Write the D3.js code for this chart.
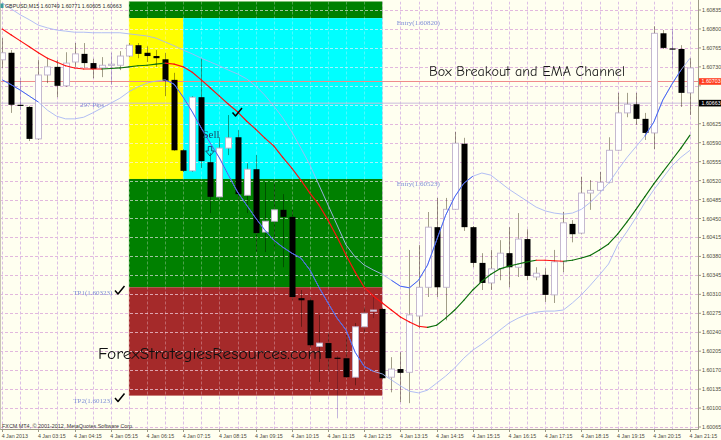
<!DOCTYPE html>
<html><head><meta charset="utf-8">
<script src="https://cdn.jsdelivr.net/npm/d3@7"></script>
<style>html,body{margin:0;padding:0;background:#fffff0;}svg{display:block}</style>
</head><body>
<script>
// ---------- DATA (GBPUSD M15, 4 Jan 2013) ----------
const open = [1.60743,1.60756,1.60660,1.60656,1.60597,1.60715,1.60730,1.60695,1.60739,1.60754,
1.60737,1.60728,1.60734,1.60733,1.60750,1.60770,1.60756,1.60750,1.60744,1.60706,
1.60576,1.60538,1.60674,1.60554,1.60490,1.60580,1.60600,1.60493,1.60541,1.60425,
1.60445,1.60466,1.60453,1.60303,1.60299,1.60214,1.60220,1.60193,1.60192,1.60157,
1.60250,1.60279,1.60283,1.60157,1.60172,1.60166,1.60270,1.60323,1.60434,1.60323,
1.60467,1.60588,1.60434,1.60368,1.60331,1.60357,1.60386,1.60360,1.60412,1.60342,
1.60346,1.60309,1.60370,1.60440,1.60423,1.60497,1.60502,1.60517,1.60576,1.60645,
1.60661,1.60634,1.60608,1.60792,1.60764,1.60763,1.60682];
const high = [1.60783,1.60761,1.60709,1.60658,1.60743,1.60745,1.60743,1.60757,1.60774,1.60774,
1.60745,1.60748,1.60756,1.60759,1.60774,1.60774,1.60768,1.60761,1.60756,1.60719,
1.60578,1.60676,1.60746,1.60571,1.60600,1.60641,1.60613,1.60552,1.60567,1.60517,
1.60515,1.60495,1.60466,1.60318,1.60305,1.60272,1.60238,1.60196,1.60235,1.60257,
1.60286,1.60309,1.60285,1.60194,1.60203,1.60392,1.60401,1.60462,1.60488,1.60488,
1.60610,1.60599,1.60436,1.60386,1.60392,1.60410,1.60434,1.60460,1.60430,1.60360,
1.60358,1.60392,1.60462,1.60447,1.60527,1.60521,1.60536,1.60600,1.60682,1.60682,
1.60682,1.60645,1.60805,1.60798,1.60800,1.60770,1.60746];
const low = [1.60728,1.60645,1.60650,1.60593,1.60595,1.60700,1.60674,1.60693,1.60730,1.60728,
1.60709,1.60711,1.60697,1.60724,1.60748,1.60746,1.60739,1.60730,1.60676,1.60575,
1.60536,1.60536,1.60543,1.60460,1.60488,1.60567,1.60484,1.60460,1.60388,1.60388,
1.60392,1.60360,1.60299,1.60250,1.60211,1.60148,1.60170,1.60081,1.60155,1.60142,
1.60240,1.60266,1.60153,1.60129,1.60111,1.60109,1.60248,1.60305,1.60305,1.60262,
1.60466,1.60427,1.60360,1.60318,1.60318,1.60336,1.60323,1.60342,1.60336,1.60336,
1.60296,1.60294,1.60351,1.60406,1.60421,1.60466,1.60500,1.60515,1.60575,1.60637,
1.60623,1.60595,1.60578,1.60763,1.60728,1.60656,1.60641];
const close = [1.60756,1.60660,1.60658,1.60597,1.60715,1.60730,1.60695,1.60737,1.60754,1.60737,
1.60726,1.60733,1.60735,1.60750,1.60770,1.60754,1.60750,1.60746,1.60704,1.60576,
1.60538,1.60674,1.60556,1.60490,1.60580,1.60599,1.60495,1.60541,1.60423,1.60445,
1.60466,1.60453,1.60305,1.60299,1.60216,1.60220,1.60192,1.60192,1.60157,1.60250,
1.60275,1.60281,1.60155,1.60172,1.60165,1.60272,1.60323,1.60434,1.60323,1.60467,
1.60589,1.60434,1.60368,1.60331,1.60357,1.60386,1.60360,1.60412,1.60344,1.60349,
1.60309,1.60370,1.60442,1.60421,1.60497,1.60502,1.60517,1.60576,1.60645,1.60661,
1.60634,1.60608,1.60792,1.60765,1.60763,1.60682,1.60728];
// EMA (red falling / green rising)
const ema = [1.60800,1.60789,1.60778,1.60767,1.60756,1.60746,1.60739,1.60732,1.60728,1.60726,
1.60726,1.60726,1.60727,1.60728,1.60730,1.60732,1.60733,1.60735,1.60737,1.60735,
1.60730,1.60720,1.60706,1.60691,1.60676,1.60661,1.60647,1.60630,1.60615,1.60599,
1.60584,1.60563,1.60543,1.60521,1.60497,1.60475,1.60447,1.60416,1.60382,1.60351,
1.60323,1.60307,1.60294,1.60281,1.60268,1.60259,1.60251,1.60249,1.60253,1.60266,
1.60281,1.60299,1.60318,1.60334,1.60347,1.60357,1.60362,1.60366,1.60370,1.60373,
1.60373,1.60372,1.60371,1.60373,1.60377,1.60382,1.60392,1.60403,1.60421,1.60443,
1.60466,1.60490,1.60514,1.60536,1.60558,1.60580,1.60604];
// channel bands
const upperBand = [1.60848,1.60837,1.60826,1.60817,1.60807,1.60802,1.60798,1.60796,1.60794,1.60794,
1.60793,1.60793,1.60793,1.60793,1.60791,1.60789,1.60787,1.60783,1.60776,1.60769,
1.60761,1.60754,1.60746,1.60739,1.60732,1.60724,1.60717,1.60708,1.60695,1.60678,
1.60658,1.60636,1.60610,1.60580,1.60549,1.60512,1.60475,1.60438,1.60401,1.60379,
1.60364,1.60355,1.60347,1.60336,1.60325,1.60322,1.60336,1.60364,1.60410,1.60456,
1.60490,1.60515,1.60528,1.60534,1.60530,1.60517,1.60504,1.60493,1.60482,1.60471,
1.60464,1.60460,1.60458,1.60460,1.60467,1.60480,1.60497,1.60515,1.60539,1.60562,
1.60582,1.60602,1.60628,1.60669,1.60698,1.60724,1.60746];
const lowerBand = [1.60706,1.60697,1.60687,1.60676,1.60665,1.60650,1.60639,1.60634,1.60634,1.60637,
1.60645,1.60654,1.60663,1.60672,1.60684,1.60693,1.60700,1.60704,1.60706,1.60698,
1.60674,1.60647,1.60617,1.60589,1.60562,1.60530,1.60499,1.60475,1.60451,1.60429,
1.60410,1.60397,1.60386,1.60377,1.60355,1.60323,1.60294,1.60266,1.60244,1.60203,
1.60177,1.60168,1.60163,1.60152,1.60141,1.60131,1.60128,1.60133,1.60146,1.60159,
1.60174,1.60192,1.60207,1.60218,1.60231,1.60244,1.60257,1.60266,1.60273,1.60277,
1.60279,1.60279,1.60281,1.60294,1.60309,1.60327,1.60346,1.60366,1.60401,1.60425,
1.60451,1.60479,1.60503,1.60525,1.60547,1.60563,1.60576];
// bar ranges where price broke out of the band
const upperBreakRanges = [[43, 52], [71, 75]];
const lowerBreakRanges = [[0, 4], [18, 41]];

// box objects (bar index from/to, price top/bottom)
const boxNames   = ["entryHigh", "range1", "range2", "entryLow", "target"];
const boxFrom    = [14, 14, 20, 14, 14];
const boxTo      = [42, 20, 42, 42, 42];
const boxTop     = [1.60900, 1.60820, 1.60820, 1.60523, 1.60323];
const boxBottom  = [1.60820, 1.60523, 1.60523, 1.60323, 1.60123];

const priceTicks = [1.60065,1.60100,1.60135,1.60170,1.60205,1.60240,1.60275,1.60310,1.60345,1.60380,
1.60415,1.60450,1.60485,1.60520,1.60555,1.60590,1.60625,1.60660,1.60695,1.60730,1.60765,1.60800,1.60835];
const timeLabels = ["4 Jan 2013","4 Jan 03:15","4 Jan 04:15","4 Jan 05:15","4 Jan 06:15","4 Jan 07:15",
"4 Jan 08:15","4 Jan 09:15","4 Jan 10:15","4 Jan 11:15","4 Jan 12:15","4 Jan 13:15","4 Jan 14:15",
"4 Jan 15:15","4 Jan 16:15","4 Jan 17:15","4 Jan 18:15","4 Jan 19:15","4 Jan 20:15","4 Jan 21:15"];
const timeLabelBars = [0,4,8,12,16,20,24,28,32,36,40,44,48,52,56,60,64,68,72,76];

const priceLines = [1.60703, 1.60663];
const headerText = "GBPUSD,M15  1.60749 1.60771 1.60605 1.60663";
const footerText = "FXCM MT4, \u00A9 2001-2012, MetaQuotes Software Corp.";

// ---------- STYLES ----------
const boxColors = {entryHigh:"#008000", range1:"#ffff00", range2:"#00ffff", entryLow:"#008000", target:"#a52a2a"};
const W = 721, H = 440;
const plotRight = 698.5, plotTop = 1.5, plotBottom = 429.5;

const x = d3.scaleLinear().domain([0, 76]).range([2.2, 690]);
const y = d3.scaleLinear().domain([1.60065, 1.60835]).range([427, 10]);
const n = open.length;

const svg = d3.select("body").append("svg").attr("width", W).attr("height", H);
svg.append("rect").attr("width", W).attr("height", H).attr("fill", "#fffff0");
const defs = svg.append("defs");
defs.append("clipPath").attr("id", "plotClip").append("rect")
  .attr("x", 0).attr("y", plotTop).attr("width", plotRight).attr("height", plotBottom - plotTop);
const boxClip = defs.append("clipPath").attr("id", "boxClip");
boxNames.forEach((b, i) => boxClip.append("rect")
  .attr("x", x(boxFrom[i])).attr("width", x(boxTo[i]) - x(boxFrom[i]))
  .attr("y", Math.max(plotTop, y(boxTop[i]))).attr("height", y(boxBottom[i]) - Math.max(plotTop, y(boxTop[i]))));

const g = svg.append("g").attr("clip-path", "url(#plotClip)");

const vGrid = d3.range(0, n, 2);
function drawGrid(parent, col, colV) {
  parent.selectAll(null).data(priceTicks).join("line")
    .attr("x1", 0).attr("x2", plotRight).attr("y1", d => Math.round(y(d)) + 0.5).attr("y2", d => Math.round(y(d)) + 0.5)
    .attr("stroke", col).attr("stroke-width", 1).attr("stroke-dasharray", "3,2");
  parent.selectAll(null).data(vGrid).join("line")
    .attr("y1", plotTop).attr("y2", plotBottom).attr("x1", d => Math.round(x(d)) + 0.5).attr("x2", d => Math.round(x(d)) + 0.5)
    .attr("stroke", colV).attr("stroke-width", 1).attr("stroke-dasharray", "3,2");
}
drawGrid(g.append("g"), "#e2b8de", "#dcbfe6");

// boxes
g.append("g").selectAll("rect").data(boxNames).join("rect")
  .attr("x", (d, i) => x(boxFrom[i])).attr("width", (d, i) => x(boxTo[i]) - x(boxFrom[i]))
  .attr("y", (d, i) => y(boxTop[i])).attr("height", (d, i) => y(boxBottom[i]) - y(boxTop[i]))
  .attr("fill", d => boxColors[d]);
drawGrid(g.append("g").attr("clip-path", "url(#boxClip)"), "rgba(255,238,255,0.62)", "rgba(255,238,255,0.3)");

// horizontal price lines
g.append("line").attr("x1", 0).attr("x2", plotRight).attr("y1", y(priceLines[0])).attr("y2", y(priceLines[0]))
  .attr("stroke", "#f08a8a").attr("stroke-width", 1);
g.append("line").attr("x1", 0).attr("x2", plotRight).attr("y1", y(priceLines[1])).attr("y2", y(priceLines[1]))
  .attr("stroke", "#cbbcdc").attr("stroke-width", 1);

// candles
const idx = d3.range(n);
const cg = g.append("g");
cg.selectAll("line.wick").data(idx).join("line").attr("class", "wick")
  .attr("x1", i => Math.round(x(i)) + 0.5).attr("x2", i => Math.round(x(i)) + 0.5)
  .attr("y1", i => y(high[i])).attr("y2", i => y(low[i]))
  .attr("stroke", i => Math.abs(close[i] - open[i]) < 0.00003 ? "#c4b6dc" : "#a29e88")
  .attr("stroke-width", 1).style("mix-blend-mode", "multiply");
cg.selectAll("rect.body").data(idx).join("rect").attr("class", "body")
  .attr("x", i => Math.round(x(i)) - 2.5).attr("width", 6)
  .attr("y", i => y(Math.max(open[i], close[i])))
  .attr("height", i => Math.max(1.2, Math.abs(y(open[i]) - y(close[i]))))
  .attr("fill", i => close[i] >= open[i] ? "#ffffff" : "#000000")
  .attr("stroke", i => close[i] >= open[i] ? "#bfb2cc" : "none").attr("stroke-width", 0.9);

// bands
const lineGen = d3.line().x((d, i) => x(i)).y(d => y(d));
const inRanges = (i, rs) => rs.some(r => i >= r[0] && i <= r[1]);
[[upperBand, upperBreakRanges], [lowerBand, lowerBreakRanges]].forEach(([arr, rs]) => {
  g.append("path").attr("d", lineGen(arr)).attr("fill", "none").attr("stroke", "#a9b7f4").attr("stroke-width", 0.9);
  const dark = d3.line().defined((d, i) => inRanges(i, rs)).x((d, i) => x(i)).y(d => y(d));
  g.append("path").attr("d", dark(arr)).attr("fill", "none").attr("stroke", "#3a5af2").attr("stroke-width", 0.9);
});
// EMA, coloured by direction
g.append("g").selectAll("line").data(d3.range(n - 1)).join("line")
  .attr("x1", i => x(i)).attr("x2", i => x(i + 1)).attr("y1", i => y(ema[i])).attr("y2", i => y(ema[i + 1]))
  .attr("stroke", i => ema[i + 1] > ema[i] ? "#0b6e0b" : "#ff1010").attr("stroke-width", 1.15).attr("stroke-linecap", "round");

// chart objects text
const serif = "'Liberation Serif','DejaVu Serif',serif";
const objText = [
  {t: "Entry(1.60820)", k: 43.6, p: 1.60820},
  {t: "Entry(1.60523)", k: 43.6, p: 1.60523},
  {t: "TP1(1.60323)", k: 7.86, p: 1.60323},
  {t: "TP2(1.60123)", k: 7.86, p: 1.60123}
];
g.selectAll("text.obj").data(objText).join("text").attr("class", "obj")
  .attr("x", d => x(d.k)).attr("y", d => y(d.p) + 7.3).text(d => d.t)
  .attr("font-family", serif).attr("font-size", 7).attr("fill", "#7f8fd6");
g.append("text").attr("x", 80).attr("y", 106.5).text("297 Pips")
  .attr("font-family", serif).attr("font-size", 7).attr("fill", "#7f8fd6");

function check(cx, cy) {
  g.append("path").attr("d", `M${cx},${cy + 4.5} L${cx + 3},${cy + 8} L${cx + 9.5},${cy}`)
    .attr("fill", "none").attr("stroke", "#000").attr("stroke-width", 1.5).attr("stroke-linejoin", "round");
}
check(115, 286); check(115, 393.5); check(232.5, 108);

g.append("text").attr("x", 202.5).attr("y", 138.3).text("Sell")
  .attr("font-family", serif).attr("font-size", 11).attr("fill", "#1f3f60");
g.append("path").attr("d", "M208.3,146.5 h3.4 v4.5 h2.6 l-4.3,5 l-4.3,-5 h2.6 z")
  .attr("fill", "none").attr("stroke", "#22406a").attr("stroke-width", 0.9);

const casual = "'Comic Sans MS','Comic Neue','DejaVu Sans',sans-serif";
g.append("text").attr("x", 429).attr("y", 76).text("Box Breakout and EMA Channel")
  .attr("font-family", casual).attr("font-size", 14).attr("fill", "#1a1a1a")
  .attr("textLength", 196).attr("lengthAdjust", "spacingAndGlyphs");
g.append("text").attr("x", 98).attr("y", 358.5).text("ForexStrategiesResources.com")
  .attr("font-family", casual).attr("font-size", 15.5).attr("fill", "#111")
  .attr("textLength", 224).attr("lengthAdjust", "spacingAndGlyphs");

// ---------- AXES ----------
const sans = "'Liberation Sans',Arial,sans-serif";
const axCol = "#9c9a86";
svg.append("line").attr("x1", plotRight).attr("x2", plotRight).attr("y1", 0).attr("y2", plotBottom)
  .attr("stroke", axCol).attr("stroke-width", 1);
svg.append("line").attr("x1", 0).attr("x2", plotRight).attr("y1", plotBottom).attr("y2", plotBottom)
  .attr("stroke", axCol).attr("stroke-width", 1);
svg.append("line").attr("x1", 0.5).attr("x2", 0.5).attr("y1", 0).attr("y2", plotBottom)
  .attr("stroke", "#c8c6b4").attr("stroke-width", 1);

const fmt = d3.format(".5f");
// tick labels that sit under a current-price tag are hidden (as in the terminal)
const visibleTicks = priceTicks.filter(t => priceLines.every(p => Math.abs(y(t) - y(p)) > 5.5));
const ra = svg.append("g");
ra.selectAll("line").data(priceTicks).join("line")
  .attr("x1", plotRight).attr("x2", plotRight + 2.5).attr("y1", d => y(d)).attr("y2", d => y(d))
  .attr("stroke", axCol);
ra.selectAll("text").data(visibleTicks).join("text")
  .attr("x", 702).attr("y", d => y(d) + 2).text(d => fmt(d))
  .attr("font-family", sans).attr("font-size", 5.3).attr("fill", "#4c4a3c");

const ba = svg.append("g");
ba.selectAll("line").data(timeLabelBars).join("line")
  .attr("x1", i => Math.round(x(i)) + 0.5).attr("x2", i => Math.round(x(i)) + 0.5)
  .attr("y1", plotBottom).attr("y2", plotBottom + 2.5).attr("stroke", axCol);
ba.selectAll("text").data(timeLabels).join("text")
  .attr("x", (d, i) => x(timeLabelBars[i]) - 0.5).attr("y", 437.5).text(d => d)
  .attr("font-family", sans).attr("font-size", 5.3).attr("fill", "#4c4a3c");

// current price labels
const curCols = ["#ff3c1e", "#000000"];
priceLines.forEach((p, i) => {
  svg.append("rect").attr("x", 699).attr("y", y(p) - 3.3).attr("width", 22).attr("height", 6.6).attr("fill", curCols[i]);
  svg.append("text").attr("x", 701.5).attr("y", y(p) + 2).text(fmt(p))
    .attr("font-family", sans).attr("font-size", 5.3).attr("fill", "#fff");
});

// header / footer
svg.append("rect").attr("x", 0.5).attr("y", 3.5).attr("width", 3).attr("height", 4.5).attr("fill", "#3a9c9c");
svg.append("text").attr("x", 5).attr("y", 8.3).text(headerText)
  .attr("font-family", sans).attr("font-size", 5.3).attr("fill", "#2a2a2a");
svg.append("text").attr("x", 2).attr("y", 427.5).text(footerText)
  .attr("font-family", sans).attr("font-size", 5.4).attr("fill", "#3a3a3a");
</script>
</body></html>
